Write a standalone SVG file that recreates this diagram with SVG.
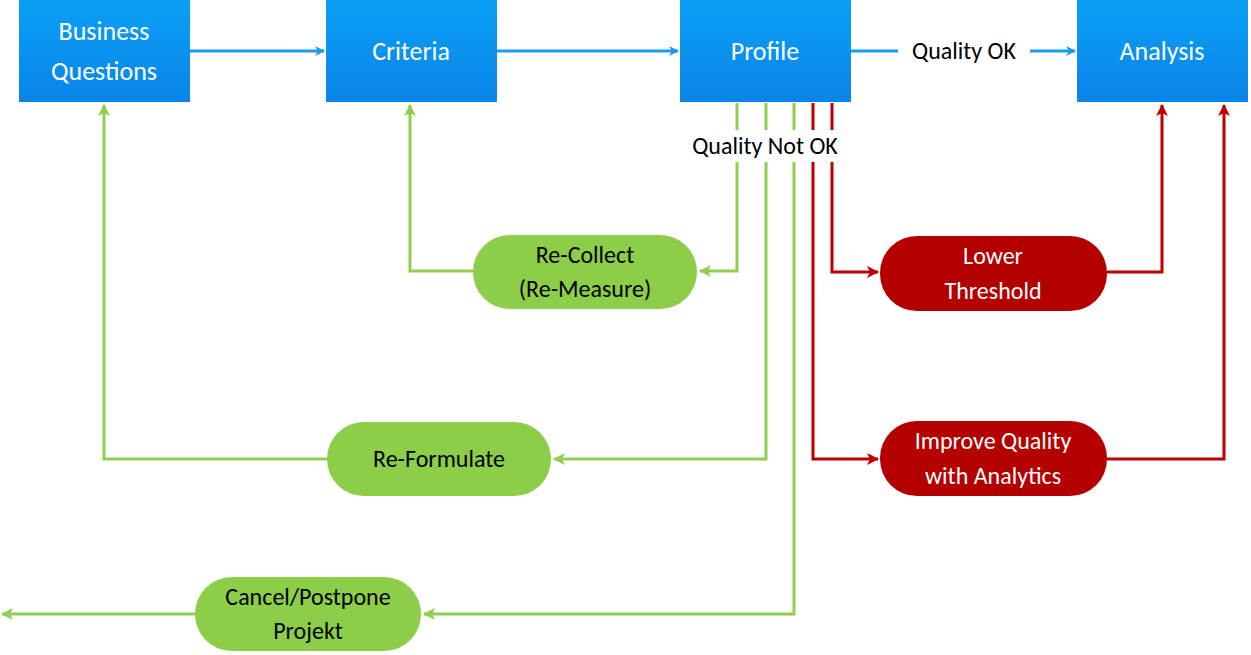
<svg xmlns="http://www.w3.org/2000/svg" width="1251" height="655" viewBox="0 0 1251 655">
<defs>
<linearGradient id="bg" x1="0" y1="0" x2="0" y2="1"><stop offset="0" stop-color="#0aa0f5"/><stop offset="1" stop-color="#0a84e8"/></linearGradient>
<marker id="ab" markerWidth="10" markerHeight="10" refX="9" refY="5" orient="auto" markerUnits="userSpaceOnUse"><path d="M0,0 L10,5 L0,10 L3,5 Z" fill="#1a9af0"/></marker>
<marker id="ag" markerWidth="12" markerHeight="12" refX="11" refY="6" orient="auto" markerUnits="userSpaceOnUse"><path d="M0,0 L12,6 L0,12 L3,6 Z" fill="#8fcf50"/></marker>
<marker id="ar" markerWidth="12" markerHeight="12" refX="11" refY="6" orient="auto" markerUnits="userSpaceOnUse"><path d="M0,0 L12,6 L0,12 L3,6 Z" fill="#c00000"/></marker>
<style>
.box{fill:url(#bg);}
.g{fill:#8cce48;}
.r{fill:#b50000;}
text{font-family:Calibri,Carlito,"Open Sans","Liberation Sans",sans-serif;text-anchor:middle;}
.wt{fill:#fff;font-size:26px;}
.bt{fill:#000;font-size:24px;}
.lb{stroke:#1a9af0;stroke-width:3;fill:none;}
.lg{stroke:#8fcf50;stroke-width:3;fill:none;}
.lr{stroke:#c00000;stroke-width:3;fill:none;}
</style>
</defs>
<g id="connectors">
<path class="lb" d="M190,51 H324" marker-end="url(#ab)"/>
<path class="lb" d="M497,51 H678" marker-end="url(#ab)"/>
<path class="lb" d="M851,51 H1075" marker-end="url(#ab)"/>
<path class="lg" d="M737,103 V271 H700" marker-end="url(#ag)"/>
<path class="lg" d="M473,271 H410 V105" marker-end="url(#ag)"/>
<path class="lg" d="M766,103 V459 H554" marker-end="url(#ag)"/>
<path class="lg" d="M327,459 H104 V105" marker-end="url(#ag)"/>
<path class="lg" d="M794,103 V614 H424" marker-end="url(#ag)"/>
<path class="lg" d="M195,614 H2" marker-end="url(#ag)"/>
<path class="lr" d="M832,103 V272 H878" marker-end="url(#ar)"/>
<path class="lr" d="M1107,272 H1162 V105" marker-end="url(#ar)"/>
<path class="lr" d="M813,103 V459 H878" marker-end="url(#ar)"/>
<path class="lr" d="M1107,459 H1224 V105" marker-end="url(#ar)"/>
<rect x="898" y="36" width="132" height="30" fill="#fff"/>
<text class="bt" x="964" y="59">Quality OK</text>
<rect x="672" y="130" width="186" height="32" fill="#fff"/>
<text class="bt" x="765" y="154">Quality Not OK</text>
</g>
<g id="business-questions"><rect class="box" x="19" y="0" width="171" height="102"/><text class="wt" x="104" y="40">Business</text><text class="wt" x="104" y="80">Questions</text></g>
<g id="criteria"><rect class="box" x="326" y="0" width="171" height="102"/><text class="wt" x="411" y="60">Criteria</text></g>
<g id="profile"><rect class="box" x="680" y="0" width="171" height="102"/><text class="wt" x="765" y="60">Profile</text></g>
<g id="analysis"><rect class="box" x="1077" y="0" width="171" height="102"/><text class="wt" x="1162" y="60">Analysis</text></g>
<g id="recollect"><rect class="g" x="473" y="235" width="224" height="74" rx="37"/><text class="bt" x="585" y="263">Re-Collect</text><text class="bt" x="585" y="297">(Re-Measure)</text></g>
<g id="reformulate"><rect class="g" x="327" y="422" width="224" height="74" rx="37"/><text class="bt" x="439" y="467">Re-Formulate</text></g>
<g id="cancel"><rect class="g" x="195" y="577" width="226" height="74" rx="37"/><text class="bt" x="308" y="605">Cancel/Postpone</text><text class="bt" x="308" y="639">Projekt</text></g>
<g id="lower-threshold"><rect class="r" x="880" y="236" width="227" height="75" rx="37"/><text class="wt" x="993" y="264" style="font-size:24px">Lower</text><text class="wt" x="993" y="299" style="font-size:24px">Threshold</text></g>
<g id="improve-quality"><rect class="r" x="880" y="421" width="227" height="75" rx="37"/><text class="wt" x="993" y="449" style="font-size:24px">Improve Quality</text><text class="wt" x="993" y="484" style="font-size:24px">with Analytics</text></g>
</svg>
